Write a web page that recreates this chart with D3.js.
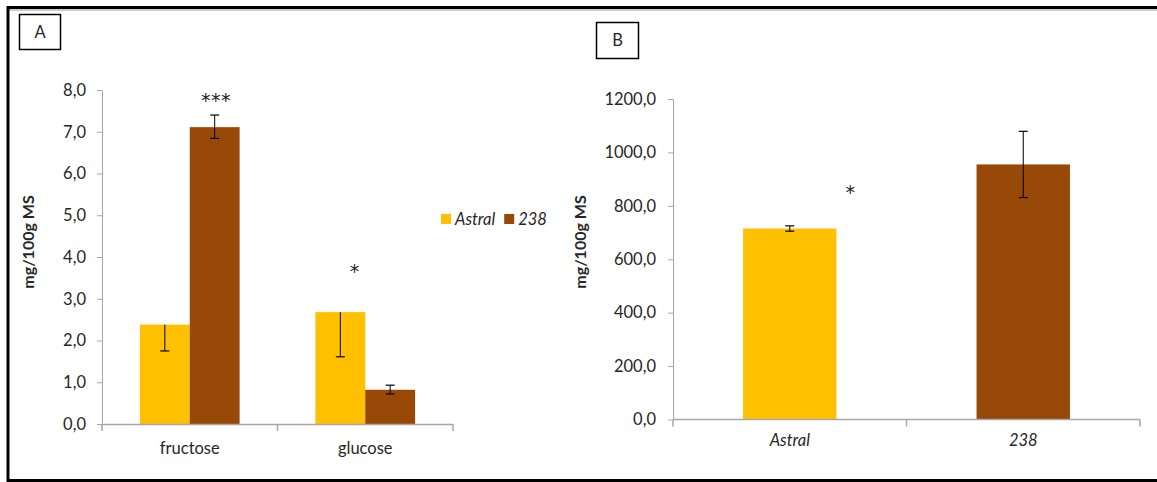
<!DOCTYPE html>
<html><head><meta charset="utf-8">
<script src="https://cdn.jsdelivr.net/npm/d3@7"></script>
<style>
body{margin:0;background:#fff;}
text{font-family:Lato,"Open Sans",sans-serif;fill:#262626;}
</style></head><body>
<svg id="c" width="1157" height="482"></svg>
<script>
// Panel A data
const categoriesA = ["fructose", "glucose"];
const seriesA = ["Astral", "238"];
const astralA = [2.38, 2.68];
const line238A = [7.11, 0.82];
const astralErrLowA = [0.63, 1.07];
const astralErrHighA = [0, 0];
const line238ErrLowA = [0.27, 0.10];
const line238ErrHighA = [0.29, 0.11];
const ticksA = [0, 1, 2, 3, 4, 5, 6, 7, 8];
const sigA = [{cat: "fructose", frac: 0.65, v: 7.86, t: "***"}, {cat: "glucose", frac: 0.44, v: 3.76, t: "*"}];
// Panel B data
const categoriesB = ["Astral", "238"];
const valuesB = [715, 955];
const errB = [10, 124];
const ticksB = [0, 200, 400, 600, 800, 1000, 1200];
const sigB = [{cat: "Astral", frac: 0.76, v: 867, t: "*"}];

const colors = {"Astral": "#FFC000", "238": "#984807"};
const fmt = d => d3.format(".1f")(d).replace(".", ",");
const svg = d3.select("#c");
const axisCol = "#a6a6a6";
const FS = "16.5px";

// outer frame
svg.append("line").attr("x1", 7).attr("x2", 1157).attr("y1", 7.5).attr("y2", 7.5).attr("stroke", "#000").attr("stroke-width", 3);
svg.append("line").attr("x1", 7).attr("x2", 1157).attr("y1", 10).attr("y2", 10).attr("stroke", "#999").attr("stroke-width", 1);
svg.append("line").attr("x1", 8).attr("x2", 8).attr("y1", 6).attr("y2", 482).attr("stroke", "#000").attr("stroke-width", 3);
svg.append("line").attr("x1", 7).attr("x2", 1157).attr("y1", 480.5).attr("y2", 480.5).attr("stroke", "#000").attr("stroke-width", 3);

function labelBox(x, y, w, h, t) {
  svg.append("rect").attr("x", x).attr("y", y).attr("width", w).attr("height", h).attr("fill", "#fff").attr("stroke", "#000").attr("stroke-width", 1.5);
  svg.append("text").attr("x", x + w / 2).attr("y", y + h / 2 + 5.5).attr("text-anchor", "middle").style("font-size", FS).text(t);
}
labelBox(19.5, 14.5, 41, 35, "A");
labelBox(596.5, 22.5, 42, 36, "B");

function yAxis(y, x0, ticks, pad) {
  const g = svg.append("g").attr("transform", `translate(${x0},0)`)
    .call(d3.axisLeft(y).tickValues(ticks).tickFormat(fmt).tickSize(5).tickSizeOuter(0).tickPadding(pad));
  g.select(".domain").attr("stroke", axisCol);
  g.selectAll(".tick line").attr("stroke", axisCol);
  g.selectAll(".tick text").style("font-size", FS).style("font-family", "Lato,'Open Sans',sans-serif").attr("fill", "#262626");
}
function xAxis(x, y0, italic) {
  const [a, b] = x.range();
  svg.append("line").attr("x1", a).attr("x2", b).attr("y1", y0 + 0.5).attr("y2", y0 + 0.5).attr("stroke", axisCol).attr("stroke-width", 1.5);
  const bounds = x.domain().map(d => x(d) - x.step() * x.paddingOuter()).concat([b]);
  bounds.forEach(v => svg.append("line").attr("x1", v).attr("x2", v).attr("y1", y0).attr("y2", y0 + 7).attr("stroke", axisCol).attr("stroke-width", 1.5));
  x.domain().forEach(d => svg.append("text").attr("x", x(d) + x.bandwidth() / 2).attr("y", y0 + 30)
    .attr("text-anchor", "middle").style("font-size", FS).style("font-style", italic ? "italic" : "normal").text(d));
}
function errBar(cx, yTop, yBot, capTop, capBot) {
  svg.append("line").attr("x1", cx).attr("x2", cx).attr("y1", yTop).attr("y2", yBot).attr("stroke", "#000").attr("stroke-width", 1);
  if (capTop) svg.append("line").attr("x1", cx - 4.5).attr("x2", cx + 4.5).attr("y1", yTop).attr("y2", yTop).attr("stroke", "#000").attr("stroke-width", 1.2);
  if (capBot) svg.append("line").attr("x1", cx - 4.5).attr("x2", cx + 4.5).attr("y1", yBot).attr("y2", yBot).attr("stroke", "#000").attr("stroke-width", 1.2);
}
function yTitle(x, y, t) {
  svg.append("text").attr("transform", `translate(${x},${y}) rotate(-90)`).attr("text-anchor", "middle")
    .style("font-size", "16px").style("font-weight", "bold").text(t);
}
function star(x, y, t) {
  svg.append("text").attr("x", x).attr("y", y).attr("text-anchor", "middle")
    .style("font-size", "19px").style("letter-spacing", "0.5px").style("font-family", "'DejaVu Sans',sans-serif").style("fill", "#222").text(t);
}

// ---- Panel A ----
const yA = d3.scaleLinear().domain([0, 8]).range([424, 90]);
const xA = d3.scaleBand().domain(categoriesA).range([102, 453]).paddingInner(0).paddingOuter(0);
const xAi = d3.scaleBand().domain(seriesA).range([0, xA.bandwidth()]).paddingInner(0).paddingOuter(0.76);
yAxis(yA, 102, ticksA, 11);
const dataA = {"Astral": {v: astralA, lo: astralErrLowA, hi: astralErrHighA}, "238": {v: line238A, lo: line238ErrLowA, hi: line238ErrHighA}};
seriesA.forEach(s => {
  categoriesA.forEach((c, i) => {
    const v = dataA[s].v[i];
    svg.append("rect").attr("x", xA(c) + xAi(s)).attr("width", xAi.bandwidth()).attr("y", yA(v)).attr("height", yA(0) - yA(v)).attr("fill", colors[s]);
  });
});
xAxis(xA, 424, false);
seriesA.forEach(s => {
  categoriesA.forEach((c, i) => {
    const d = dataA[s];
    const cx = xA(c) + xAi(s) + xAi.bandwidth() / 2;
    errBar(cx, yA(d.v[i] + d.hi[i]), yA(d.v[i] - d.lo[i]), d.hi[i] > 0, d.lo[i] > 0);
  });
});
sigA.forEach(s => star(xA(s.cat) + xA.bandwidth() * s.frac, yA(s.v) + 11, s.t));
yTitle(34, 242, "mg/100g MS");
// legend
const lg = svg.append("g").attr("transform", "translate(441,214)");
let lx = 0;
seriesA.forEach(s => {
  lg.append("rect").attr("x", lx).attr("y", 0).attr("width", 10).attr("height", 10).attr("fill", colors[s]);
  const t = lg.append("text").attr("x", lx + 14).attr("y", 11).style("font-size", FS).style("font-style", "italic").text(s);
  lx += 14 + t.node().getComputedTextLength() + 9;
});

// ---- Panel B ----
const yB = d3.scaleLinear().domain([0, 1200]).range([419.5, 99]);
const xB = d3.scaleBand().domain(categoriesB).range([673, 1140]).paddingInner(0.6).paddingOuter(0.3);
yAxis(yB, 673, ticksB, 12);
categoriesB.forEach((c, i) => {
  svg.append("rect").attr("x", xB(c)).attr("width", xB.bandwidth()).attr("y", yB(valuesB[i])).attr("height", yB(0) - yB(valuesB[i])).attr("fill", colors[c]);
});
const xB2 = d3.scaleBand().domain(categoriesB).range([673, 1140]);
(function () {
  const y0 = 419.5;
  svg.append("line").attr("x1", 673).attr("x2", 1140).attr("y1", y0).attr("y2", y0).attr("stroke", axisCol).attr("stroke-width", 1.5);
  categoriesB.map(d => xB2(d)).concat([1140]).forEach(v => svg.append("line").attr("x1", v).attr("x2", v).attr("y1", y0).attr("y2", y0 + 7).attr("stroke", axisCol).attr("stroke-width", 1.5));
  categoriesB.forEach(d => svg.append("text").attr("x", xB2(d) + xB2.bandwidth() / 2).attr("y", y0 + 26).attr("text-anchor", "middle").style("font-size", FS).style("font-style", "italic").text(d));
})();
categoriesB.forEach((c, i) => {
  const cx = xB(c) + xB.bandwidth() / 2;
  errBar(cx, yB(valuesB[i] + errB[i]), yB(valuesB[i] - errB[i]), true, true);
});
sigB.forEach(s => star(xB2(s.cat) + xB2.bandwidth() * s.frac, yB(s.v) + 11, s.t));
yTitle(586, 242, "mg/100g MS");
</script>
</body></html>
